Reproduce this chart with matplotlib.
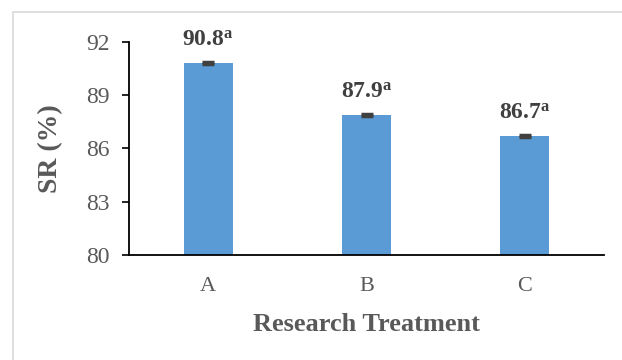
import matplotlib.pyplot as plt
from matplotlib.patches import Rectangle

# data
treatments = ["A", "B", "C"]
sr_values = [90.8, 87.9, 86.7]
sr_errors = [0.05, 0.05, 0.05]
letters = ["a", "a", "a"]
y_ticks = [80, 83, 86, 89, 92]

plt.rcParams["font.family"] = ["Liberation Serif", "DejaVu Serif"]
plt.rcParams["mathtext.fontset"] = "custom"
plt.rcParams["mathtext.rm"] = "Liberation Serif"
plt.rcParams["mathtext.bf"] = "Liberation Serif:bold"

fig = plt.figure(figsize=(6.22, 3.6), dpi=100)
# light outer frame (clipped by image edges at right/bottom)
fig.patches.append(Rectangle((13 / 622, -0.05), 1.0, 1 - 12 / 360 + 0.05,
                             transform=fig.transFigure, fill=False,
                             edgecolor="#D9D9D9", linewidth=1.2))

ax = fig.add_axes([129 / 622, 1 - 255 / 360, 475 / 622, 213 / 360])
x = range(len(treatments))
ax.bar(x, sr_values, width=0.31, color="#5B9BD5", zorder=2)
ax.errorbar(x, sr_values, yerr=sr_errors, fmt="none", ecolor="#404040",
            elinewidth=1, capsize=4, capthick=2.5, zorder=3)

for xi, v, l in zip(x, sr_values, letters):
    ax.annotate(r"$\mathbf{%.1f^{%s}}$" % (v, l), (xi, v), xytext=(0, 9),
                textcoords="offset points", ha="center", va="bottom",
                fontsize=17, color="#404040")

ax.set_ylim(80, 92)
ax.set_xlim(-0.5, 2.5)
ax.set_yticks(y_ticks)
ax.set_xticks(list(x))
ax.set_xticklabels(treatments)
ax.tick_params(axis="y", direction="out", length=5, width=1.2, pad=9,
               labelsize=17, labelcolor="#595959", color="black")
ax.tick_params(axis="x", length=0, pad=16, labelsize=16, labelcolor="#595959")
for s in ["top", "right"]:
    ax.spines[s].set_visible(False)
ax.spines["left"].set_linewidth(1.3)
ax.spines["bottom"].set_linewidth(1.3)

ax.set_ylabel("SR (%)", fontsize=20, fontweight="bold", color="#595959")
ax.yaxis.set_label_coords(-0.139, 0.5)
ax.set_xlabel("Research Treatment", fontsize=19, fontweight="bold", color="#595959")
ax.xaxis.set_label_coords(0.5, -0.273)

fig.savefig("out.png", dpi=100)
